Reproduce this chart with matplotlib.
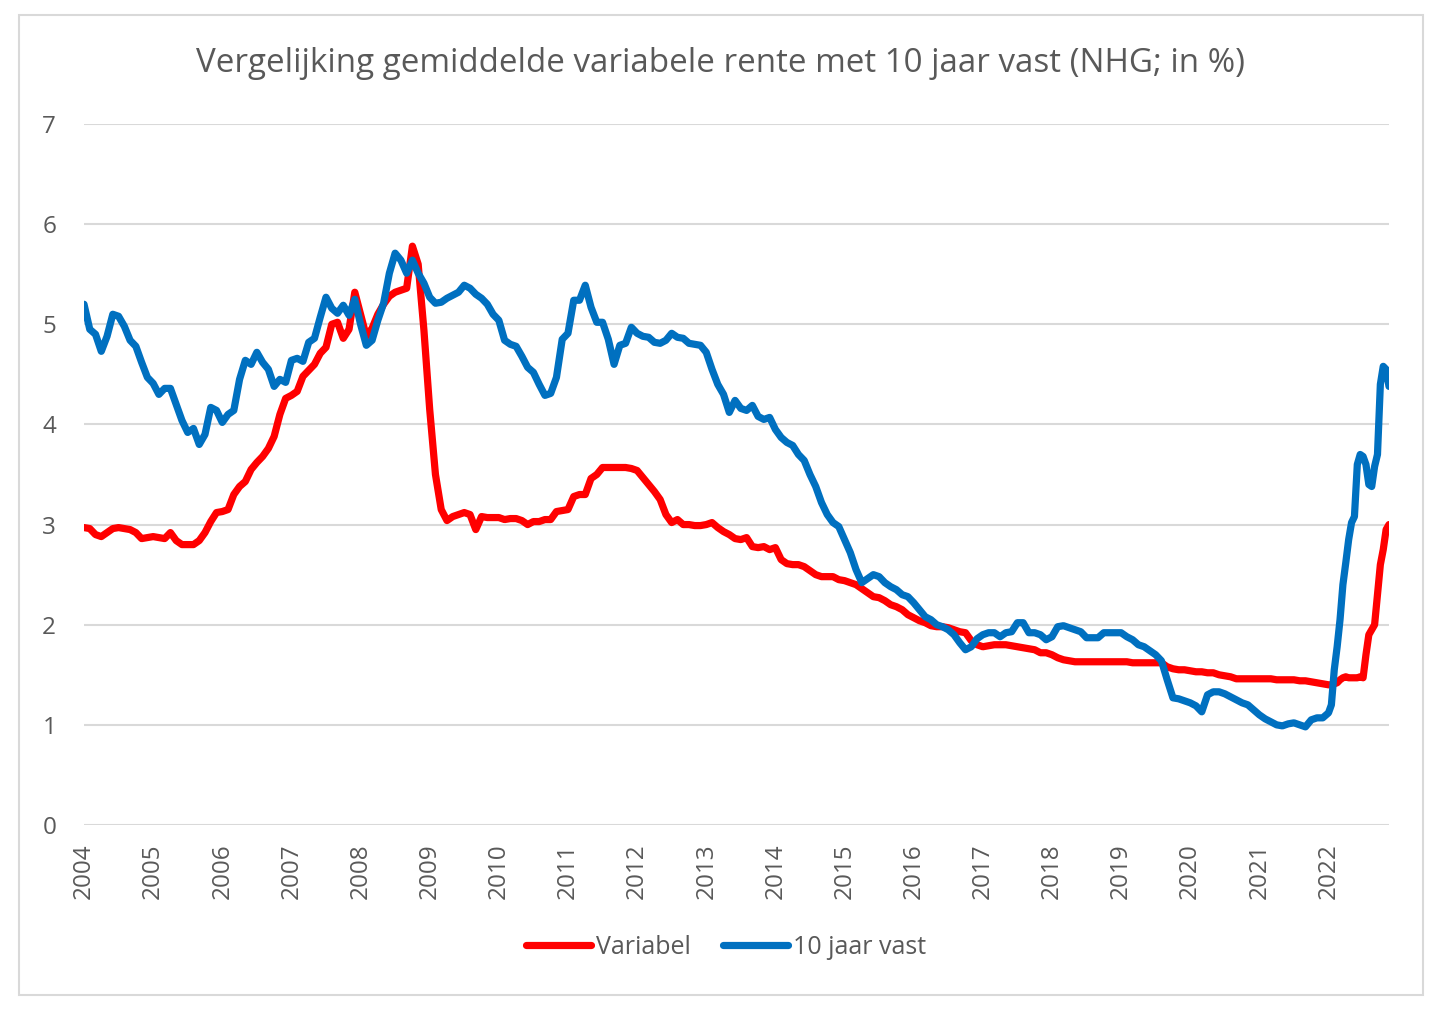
import numpy as np
import matplotlib
matplotlib.use("Agg")
import matplotlib.pyplot as plt
from matplotlib.patches import Rectangle

plt.rcParams['font.family'] = ['Open Sans', 'DejaVu Sans']

# maandwaarden 2004-2021 (jan..dec), 2022 per halve maand (jan..half nov)
variabel = {
    2004: [2.97, 2.96, 2.90, 2.88, 2.92, 2.96, 2.97, 2.96, 2.95, 2.92, 2.86, 2.87],
    2005: [2.88, 2.87, 2.86, 2.92, 2.84, 2.80, 2.80, 2.80, 2.84, 2.92, 3.03, 3.12],
    2006: [3.13, 3.15, 3.30, 3.38, 3.43, 3.55, 3.62, 3.68, 3.76, 3.88, 4.10, 4.26],
    2007: [4.29, 4.33, 4.48, 4.54, 4.60, 4.71, 4.77, 5.00, 5.02, 4.86, 4.95, 5.32],
    2008: [5.10, 4.88, 4.96, 5.10, 5.20, 5.28, 5.32, 5.34, 5.36, 5.78, 5.60, 4.94],
    2009: [4.15, 3.50, 3.15, 3.04, 3.08, 3.10, 3.12, 3.10, 2.95, 3.08, 3.07, 3.07],
    2010: [3.07, 3.05, 3.06, 3.06, 3.04, 3.00, 3.03, 3.03, 3.05, 3.05, 3.13, 3.14],
    2011: [3.15, 3.28, 3.30, 3.30, 3.46, 3.50, 3.57, 3.57, 3.57, 3.57, 3.57, 3.56],
    2012: [3.54, 3.47, 3.40, 3.33, 3.25, 3.10, 3.02, 3.05, 3.00, 3.00, 2.99, 2.99],
    2013: [3.00, 3.02, 2.97, 2.93, 2.90, 2.86, 2.85, 2.87, 2.78, 2.77, 2.78, 2.75],
    2014: [2.77, 2.65, 2.61, 2.60, 2.60, 2.58, 2.54, 2.50, 2.48, 2.48, 2.48, 2.45],
    2015: [2.44, 2.42, 2.40, 2.36, 2.32, 2.28, 2.27, 2.24, 2.20, 2.18, 2.15, 2.10],
    2016: [2.07, 2.04, 2.02, 1.99, 1.98, 1.98, 1.97, 1.95, 1.93, 1.92, 1.84, 1.80],
    2017: [1.78, 1.79, 1.80, 1.80, 1.80, 1.79, 1.78, 1.77, 1.76, 1.75, 1.72, 1.72],
    2018: [1.70, 1.67, 1.65, 1.64, 1.63, 1.63, 1.63, 1.63, 1.63, 1.63, 1.63, 1.63],
    2019: [1.63, 1.63, 1.62, 1.62, 1.62, 1.62, 1.62, 1.62, 1.58, 1.56, 1.55, 1.55],
    2020: [1.54, 1.53, 1.53, 1.52, 1.52, 1.50, 1.49, 1.48, 1.46, 1.46, 1.46, 1.46],
    2021: [1.46, 1.46, 1.46, 1.45, 1.45, 1.45, 1.45, 1.44, 1.44, 1.43, 1.42, 1.41],
}
variabel_2022 = [1.40, 1.40, 1.41, 1.42, 1.45, 1.47, 1.48, 1.47, 1.47, 1.47, 1.47,
                 1.48, 1.47, 1.70, 1.90, 1.95, 2.00, 2.30, 2.60, 2.75, 2.95, 3.00]

vast10 = {
    2004: [5.20, 4.95, 4.90, 4.73, 4.88, 5.10, 5.08, 4.98, 4.84, 4.78, 4.62, 4.47],
    2005: [4.41, 4.30, 4.36, 4.36, 4.20, 4.04, 3.92, 3.96, 3.80, 3.90, 4.17, 4.14],
    2006: [4.02, 4.10, 4.14, 4.45, 4.64, 4.60, 4.72, 4.62, 4.55, 4.38, 4.45, 4.42],
    2007: [4.64, 4.66, 4.63, 4.82, 4.86, 5.07, 5.27, 5.16, 5.11, 5.19, 5.09, 5.25],
    2008: [5.00, 4.79, 4.84, 5.04, 5.21, 5.51, 5.71, 5.64, 5.51, 5.64, 5.51, 5.41],
    2009: [5.27, 5.21, 5.22, 5.26, 5.29, 5.32, 5.39, 5.36, 5.30, 5.26, 5.20, 5.10],
    2010: [5.04, 4.84, 4.80, 4.78, 4.68, 4.57, 4.52, 4.40, 4.29, 4.31, 4.47, 4.85],
    2011: [4.91, 5.24, 5.24, 5.39, 5.17, 5.02, 5.02, 4.85, 4.60, 4.79, 4.81, 4.97],
    2012: [4.91, 4.88, 4.87, 4.82, 4.81, 4.84, 4.91, 4.87, 4.86, 4.81, 4.80, 4.79],
    2013: [4.72, 4.55, 4.40, 4.30, 4.12, 4.24, 4.16, 4.14, 4.19, 4.08, 4.05, 4.07],
    2014: [3.95, 3.87, 3.82, 3.79, 3.70, 3.64, 3.50, 3.38, 3.22, 3.10, 3.02, 2.98],
    2015: [2.85, 2.72, 2.55, 2.42, 2.46, 2.50, 2.48, 2.42, 2.38, 2.35, 2.30, 2.28],
    2016: [2.22, 2.15, 2.08, 2.05, 2.00, 1.98, 1.95, 1.90, 1.82, 1.75, 1.78, 1.86],
    2017: [1.90, 1.92, 1.92, 1.88, 1.92, 1.93, 2.02, 2.02, 1.92, 1.92, 1.90, 1.85],
    2018: [1.88, 1.98, 1.99, 1.97, 1.95, 1.93, 1.87, 1.87, 1.87, 1.92, 1.92, 1.92],
    2019: [1.92, 1.88, 1.85, 1.80, 1.78, 1.74, 1.70, 1.64, 1.45, 1.27, 1.26, 1.24],
    2020: [1.22, 1.19, 1.13, 1.30, 1.33, 1.33, 1.31, 1.28, 1.25, 1.22, 1.20, 1.15],
    2021: [1.10, 1.06, 1.03, 1.00, 0.99, 1.01, 1.02, 1.00, 0.98, 1.05, 1.07, 1.07],
}
vast10_2022 = [1.12, 1.20, 1.55, 1.78, 2.05, 2.40, 2.62, 2.85, 3.02, 3.08, 3.60,
               3.70, 3.68, 3.60, 3.40, 3.38, 3.58, 3.70, 4.40, 4.58, 4.55, 4.38]

years = list(range(2004, 2023))
y_ticks = list(range(0, 8))


def series(monthly, half_monthly):
    t, v = [], []
    for yr, vals in monthly.items():
        t += [yr + m / 12 for m in range(12)]
        v += vals
    t += [2022 + j / 24 for j in range(len(half_monthly))]
    v += half_monthly
    return np.array(t), np.array(v)


t_var, v_var = series(variabel, variabel_2022)
t_vast, v_vast = series(vast10, vast10_2022)

fig = plt.figure(figsize=(14.4, 10.13), dpi=100)
fig.patches.append(Rectangle((19 / 1440, 1 - 995 / 1013), 1404 / 1440, 980 / 1013,
                             transform=fig.transFigure, fill=False,
                             edgecolor="#D9D9D9", linewidth=1.5))

ax = fig.add_axes([84 / 1440, 1 - 825 / 1013, 1305 / 1440, 701 / 1013])
grey = "#595959"

ax.plot(t_var, v_var, color="#FF0000", linewidth=5.2, solid_joinstyle="round",
        solid_capstyle="round", label="Variabel", zorder=3)
ax.plot(t_vast, v_vast, color="#0070C0", linewidth=5.2, solid_joinstyle="round",
        solid_capstyle="round", label="10 jaar vast", zorder=3)

ax.set_xlim(2004, t_vast[-1])
ax.set_ylim(0, 7)
ax.set_yticks(y_ticks)
ax.set_xticks(years)
ax.set_xticklabels([str(y) for y in years], rotation=90)
ax.grid(axis="y", color="#D9D9D9", linewidth=1.5)
ax.set_axisbelow(True)
for s in ax.spines.values():
    s.set_visible(False)
ax.tick_params(axis="both", length=0, labelsize=17.5, colors=grey)
ax.tick_params(axis="y", pad=20)
ax.tick_params(axis="x", pad=13)

fig.text(0.5, 1 - 64 / 1013, "Vergelijking gemiddelde variabele rente met 10 jaar vast (NHG; in %)",
         ha="center", va="center", fontsize=23.9, color=grey)

leg = fig.legend(loc="center", bbox_to_anchor=(726 / 1440, 1 - 947 / 1013), ncol=2,
                 frameon=False, fontsize=18, handlelength=2.6, handletextpad=0.2,
                 columnspacing=1.3)
for txt in leg.get_texts():
    txt.set_color(grey)

fig.savefig("out.png", dpi=100)
